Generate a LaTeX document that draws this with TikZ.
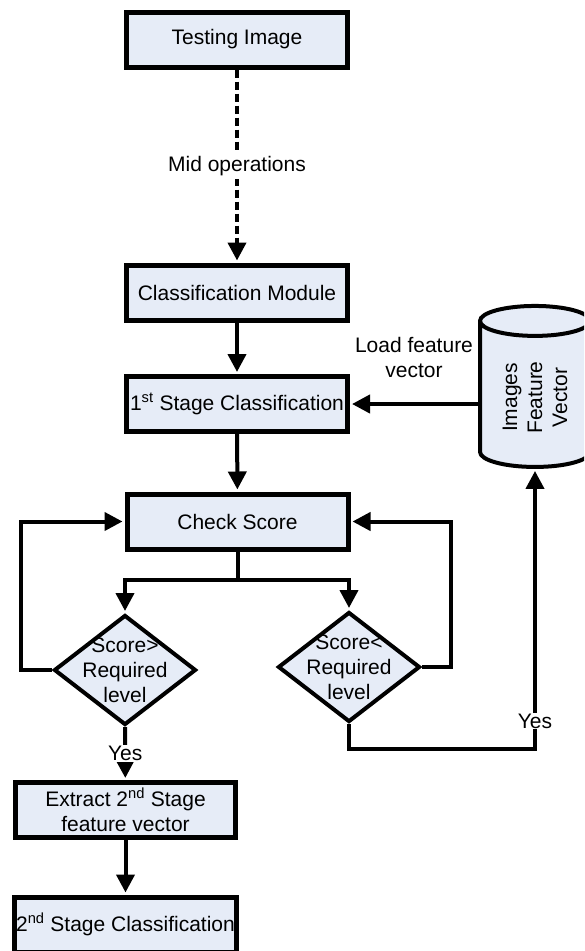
\documentclass[tikz,border=0pt]{standalone}
\usepackage{fontspec}
\setmainfont{Liberation Sans}
\usepackage{tikz}
\usetikzlibrary{shapes.geometric}
\usetikzlibrary{arrows.meta}
\definecolor{boxfill}{RGB}{230,236,247}
\tikzset{box/.style={draw,line width=5pt,fill=boxfill,minimum width=221pt,minimum height=55pt,inner sep=2pt},
         decision/.style={draw,diamond,line width=4pt,fill=boxfill,minimum width=142pt,minimum height=110pt,inner sep=0pt},
         wire/.style={line width=4pt},
         conn/.style={wire,-{Triangle[length=18pt,width=18pt]},shorten >=2pt},
         tag/.style={fill=white,inner sep=1pt}}
\begin{document}
\begin{tikzpicture}[x=1pt,y=-1pt,every node/.style={font=\fontsize{21}{25}\selectfont}]
\useasboundingbox (0,0) rectangle (584,951);
\clip (0,0) rectangle (584,951);
% boxes
\node[box] (test) at (237,39.5) {Testing Image};
\node[box] (cls) at (237,292.5) {Classification Module};
\node[box] (stage1) at (237,404) {1\textsuperscript{st} Stage Classification};
\node[box] (check) at (237.5,521.5) {Check Score};
\node[decision,label={[align=center]center:Score>\\Required\\level}] (dgt) at (125,670) {};
\node[decision,label={[align=center]center:Score<\\Required\\level}] (dlt) at (349,667) {};
\node[box,minimum width=220pt,align=center] (extract) at (125.5,810) {Extract 2\textsuperscript{nd} Stage\\feature vector};
\node[box,minimum width=220pt] (stage2) at (125.5,924.5) {2\textsuperscript{nd} Stage Classification};
\node[draw,cylinder,rotate=90,aspect=0.42,line width=4pt,fill=boxfill,minimum width=110pt,minimum height=161pt,align=center] (fv) at (535,397.5) {Images\\Feature\\Vector};
% arrows
\draw[conn,dash pattern=on 8pt off 4pt] (test) -- node[fill=white,inner sep=3pt] {Mid operations} (cls);
\draw[conn] (cls) -- (stage1);
\draw[conn] (stage1) -- (check);
\draw[conn] (fv.north |- stage1.east) -- node[above=21pt,align=center] {Load feature\\vector} (stage1.east);
\draw[wire] (check.south) -- ++(0,28) coordinate (split);
\draw[conn] (split) -| (dgt.north);
\draw[conn] (split) -| (dlt.north);
\draw[conn] (dgt.west) -- ++(-31,0) |- (check.west);
\draw[conn] (dlt.east) -- ++(29,0) |- (check.east);
\draw[conn] (dgt.south) -- node[tag] {Yes} (extract);
\draw[conn] (dlt.south) -- ++(0,25) -| node[tag,pos=0.55] {Yes} (fv.west);
\draw[conn] (extract) -- (stage2);
\end{tikzpicture}
\end{document}
